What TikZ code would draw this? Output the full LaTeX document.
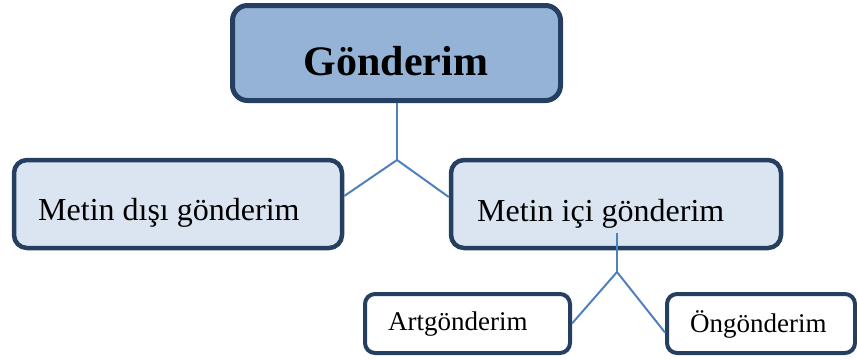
\documentclass[tikz,border=0pt]{standalone}
\usepackage{fontspec}
\setmainfont{Liberation Serif}
\definecolor{boxborder}{HTML}{243F60}
\definecolor{topfill}{HTML}{95B3D7}
\definecolor{lightfill}{HTML}{DBE5F1}
\definecolor{linkcol}{HTML}{4F81BD}
\begin{document}
\begin{tikzpicture}[x=1pt,y=1pt,
  box/.style={draw=boxborder, rectangle, inner sep=0pt, line width=4.5pt},
  topbox/.style={box, fill=topfill, line width=5pt, rounded corners=15pt},
  midbox/.style={box, fill=lightfill, rounded corners=13pt},
  smallbox/.style={box, fill=white, rounded corners=10pt, line width=4pt},
  link/.style={draw=linkcol, line width=2pt},
  bigtxt/.style={inner sep=0pt, font=\fontsize{42}{48}\selectfont\bfseries},
  midtxt/.style={inner sep=0pt, font=\fontsize{32}{38}\selectfont},
  smalltxt/.style={inner sep=0pt, font=\fontsize{27}{31}\selectfont}]
\useasboundingbox (0,0) rectangle (857,-359);
% boxes
\node[topbox, minimum width=328pt, minimum height=95pt] (top) at (396.5,-53) {};
\node[midbox, minimum width=328pt, minimum height=88pt] (lb) at (178,-204) {};
\node[midbox, minimum width=330pt, minimum height=88pt] (rb) at (616,-204) {};
\node[smallbox, minimum width=205pt, minimum height=59pt] (art) at (467.5,-323.5) {};
\node[smallbox, minimum width=188pt, minimum height=59pt] (on) at (761,-323.5) {};
% texts
\node[bigtxt, anchor=base] (toptxt) at (396,-75) {Gönderim};
\node[midtxt, anchor=base west] (lbtxt) at (38,-220) {Metin dışı gönderim};
\node[midtxt, anchor=base west] (rbtxt) at (477,-221) {Metin içi gönderim};
\node[smalltxt, anchor=base west] (arttxt) at (388,-330) {Artgönderim};
\node[smalltxt, anchor=base west] (ontxt) at (690,-332) {Öngönderim};
% connectors
\coordinate (j1) at (397,-160);
\coordinate (s2) at (617,-233);
\coordinate (j2) at (617,-272);
\draw[link] (top.south -| j1) -- (j1);
\draw[link] (j1) -- ([yshift=8pt]lb.east);
\draw[link] (j1) -- ([yshift=7pt]rb.west);
\draw[link] (s2) -- (j2);
\draw[link] (j2) -- (art.east);
\draw[link] (j2) -- ([yshift=-9pt]on.west);
\end{tikzpicture}
\end{document}
